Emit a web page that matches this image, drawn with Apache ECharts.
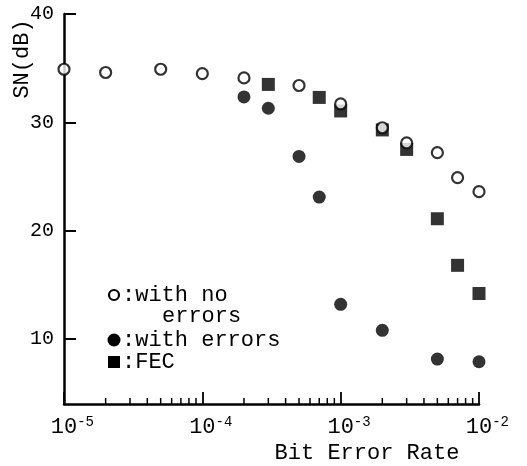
<!DOCTYPE html>
<html>
<head>
<meta charset="utf-8">
<script src="https://cdn.jsdelivr.net/npm/echarts@6/dist/echarts.min.js"></script>
<style>
  html, body { margin: 0; padding: 0; background: #fff; }
  #chart { width: 527px; height: 466px; }
</style>
</head>
<body>
<div id="chart"></div>
<script>
// ---- data ----
const noErrBer = [1e-5, 2e-5, 5e-5, 1e-4, 2e-4, 5e-4, 1e-3, 2e-3, 3e-3, 5e-3, 7e-3, 1e-2];
const noErrSN  = [34.9, 34.6, 34.9, 34.5, 34.1, 33.4, 31.7, 29.5, 28.1, 27.2, 24.9, 23.6];

const withErrBer = [2e-4, 3e-4, 5e-4, 7e-4, 1e-3, 2e-3, 5e-3, 1e-2];
const withErrSN  = [32.35, 31.3, 26.85, 23.1, 13.2, 10.8, 8.15, 7.9];

const fecBer = [3e-4, 7e-4, 1e-3, 2e-3, 3e-3, 5e-3, 7e-3, 1e-2];
const fecSN  = [33.5, 32.3, 31.05, 29.3, 27.5, 21.1, 16.8, 14.2];

const yTicks = [10, 20, 30, 40];
const xMinorTicks = [
  2e-5, 3e-5, 4e-5, 5e-5, 6e-5, 7e-5, 8e-5, 9e-5,
  2e-4, 3e-4, 4e-4, 5e-4, 6e-4, 7e-4, 8e-4, 9e-4,
  2e-3, 3e-3, 4e-3, 5e-3, 6e-3, 7e-3, 8e-3, 9e-3
];

const Y_MIN = 4, Y_MAX = 40;
const FONT = 'Liberation Mono';
const INK = '#000';
const TXT = '22px "' + FONT + '"';

const zip = (xs, ys) => xs.map((x, i) => [x, ys[i]]);

const chart = echarts.init(document.getElementById('chart'));

chart.setOption({
  backgroundColor: '#fff',
  animation: false,
  grid: { left: 64, right: 48, top: 14, bottom: 62 },
  xAxis: {
    type: 'log',
    logBase: 10,
    min: 1e-5,
    max: 1e-2,
    axisLine: { lineStyle: { color: INK, width: 2.5 } },
    axisTick: { inside: true, length: 12, lineStyle: { color: INK, width: 1.8 } },
    splitLine: { show: false },
    axisLabel: {
      margin: 11,
      formatter: v => {
        const e = Math.round(Math.log10(v));
        // hidden copy of the exponent on the left keeps "10" centred on the tick
        return '{hid|' + e + '}{b|10}{sup|' + e + '}';
      },
      rich: {
        b: { fontFamily: FONT, fontSize: 22, color: INK, lineHeight: 24 },
        sup: { fontFamily: FONT, fontSize: 14, color: INK, verticalAlign: 'top', lineHeight: 14 },
        hid: { fontFamily: FONT, fontSize: 14, color: 'transparent', verticalAlign: 'top', lineHeight: 14 }
      }
    }
  },
  yAxis: {
    type: 'value',
    min: Y_MIN,
    max: Y_MAX,
    axisLine: { show: true, lineStyle: { color: INK, width: 2.5 } },
    axisTick: { show: true, inside: true, length: 12, customValues: yTicks, lineStyle: { color: INK, width: 2 } },
    splitLine: { show: false },
    axisLabel: {
      customValues: yTicks,
      margin: 10,
      fontFamily: FONT,
      fontSize: 20,
      color: INK
    }
  },
  series: [
    {
      // minor decade ticks on the log axis
      type: 'custom',
      silent: true,
      clip: false,
      data: xMinorTicks.map(v => [v, Y_MIN]),
      encode: { x: 0, y: 1 },
      renderItem: (params, api) => {
        const p = api.coord([api.value(0), Y_MIN]);
        return {
          type: 'line',
          shape: { x1: p[0], y1: p[1], x2: p[0], y2: p[1] - 6 },
          style: { stroke: INK, lineWidth: 1.5 }
        };
      },
      z: 1
    },
    {
      name: 'FEC',
      type: 'scatter',
      symbol: 'rect',
      symbolSize: 13,
      data: zip(fecBer, fecSN),
      itemStyle: { color: INK },
      z: 2
    },
    {
      name: 'with errors',
      type: 'scatter',
      symbol: 'circle',
      symbolSize: 13,
      data: zip(withErrBer, withErrSN),
      itemStyle: { color: INK },
      z: 3
    },
    {
      name: 'with no errors',
      type: 'scatter',
      symbol: 'circle',
      symbolSize: 11,
      data: zip(noErrBer, noErrSN),
      itemStyle: { color: '#fff', borderColor: INK, borderWidth: 2.2 },
      z: 4
    }
  ],
  graphic: [
    {
      type: 'text',
      x: 22, y: 59,
      rotation: Math.PI / 2,
      style: { text: 'SN(dB)', font: TXT, fill: INK, align: 'center', verticalAlign: 'middle' }
    },
    {
      type: 'text',
      x: 367, y: 453,
      style: { text: 'Bit Error Rate', font: TXT, fill: INK, align: 'center', verticalAlign: 'middle' }
    },
    // legend
    {
      type: 'circle',
      shape: { cx: 114, cy: 295, r: 5 },
      style: { fill: '#fff', stroke: INK, lineWidth: 2.2 }
    },
    {
      type: 'text',
      x: 122, y: 295,
      style: { text: ':with no', font: TXT, fill: INK, verticalAlign: 'middle' }
    },
    {
      type: 'text',
      x: 162, y: 316,
      style: { text: 'errors', font: TXT, fill: INK, verticalAlign: 'middle' }
    },
    {
      type: 'circle',
      shape: { cx: 114, cy: 340, r: 6.5 },
      style: { fill: INK }
    },
    {
      type: 'text',
      x: 122, y: 340,
      style: { text: ':with errors', font: TXT, fill: INK, verticalAlign: 'middle' }
    },
    {
      type: 'rect',
      shape: { x: 108, y: 356, width: 12, height: 12 },
      style: { fill: INK }
    },
    {
      type: 'text',
      x: 122, y: 362,
      style: { text: ':FEC', font: TXT, fill: INK, verticalAlign: 'middle' }
    }
  ]
});
</script>
</body>
</html>
